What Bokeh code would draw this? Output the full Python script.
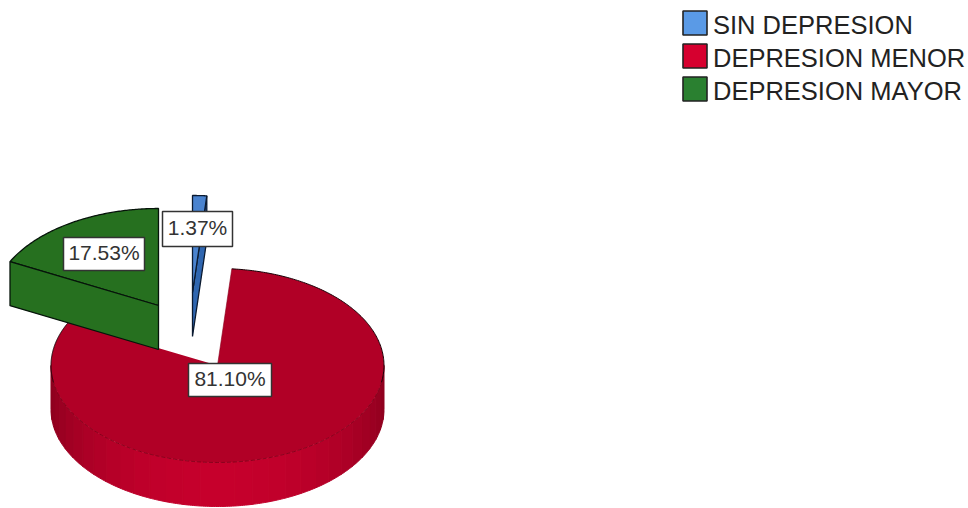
import math
from bokeh.plotting import figure
from bokeh.models import Range1d
from bokeh.core.properties import value
from bokeh.embed import file_html
from bokeh.resources import INLINE

# Data
categories = ["SIN DEPRESION", "DEPRESION MENOR", "DEPRESION MAYOR"]
percentages = [1.37, 81.10, 17.53]
pct_labels = ["1.37%", "81.10%", "17.53%"]

# Style and layout
top_colors = ["#4a83cf", "#b10026", "#26701f"]
wall_colors = ["#2f66b0", "#b10026", "#26701f"]
legend_colors = ["#5a9ae6", "#d6002f", "#2a8030"]
apex = [(192.0, 292.0), (217.0, 365.0), (158.0, 305.0)]
box_centers = [(197, 228.5), (229.5, 379.5), (103.5, 253.5)]
box_sizes = [(70, 35), (83, 33), (81, 33)]
RX, RY, DEPTH = 166.5, 97.0, 44.0
FONT = "Liberation Sans"

W, H = 968, 508
p = figure(width=W, height=H, output_backend="svg", toolbar_location=None,
           x_range=Range1d(0, W), y_range=Range1d(H, 0),
           min_border=0, outline_line_color=None, margin=(0, 0, 0, 0))
p.xaxis.visible = False
p.yaxis.visible = False
p.grid.visible = False
p.background_fill_color = "white"


def pt(c, clock_deg, dz=0.0):
    a = math.radians(clock_deg)
    return c[0] + RX * math.sin(a), c[1] - RY * math.cos(a) + dz


def arc(c, a0, a1, dz=0.0, n=120):
    pts = [pt(c, a0 + (a1 - a0) * i / n, dz) for i in range(n + 1)]
    return [q[0] for q in pts], [q[1] for q in pts]


def shade(clock_deg):
    # cylinder wall lighting: dark at the sides, bright at the front
    t = max(0.0, math.cos(math.radians(clock_deg - 180)))
    t = t ** 1.3
    lo, hi = (0x8c, 0x00, 0x1e), (0xc6, 0x00, 0x2c)
    return "#%02x%02x%02x" % tuple(round(l + (h - l) * t) for l, h in zip(lo, hi))


# clock angles from the percentages
angles = []
acc = 0.0
for v in percentages:
    start = acc * 3.6
    acc += v
    angles.append((start, acc * 3.6))

# Red slice: striped front wall, then top face
c = apex[1]
a0, a1 = angles[1]
n_wall = 30
wall_start, wall_end = max(a0, 90.0), min(a1, 270.0)
for i in range(n_wall):
    s = wall_start + (wall_end - wall_start) * i / n_wall
    e = wall_start + (wall_end - wall_start) * (i + 1) / n_wall
    xt, yt = arc(c, s, e, 0, 8)
    xb, yb = arc(c, e, s, DEPTH, 8)
    col = shade((s + e) / 2)
    p.patch(xt + xb, yt + yb, fill_color=col, line_color=col, line_width=1)
xa, ya = arc(c, a0, a1)
p.patch([c[0]] + xa, [c[1]] + ya, fill_color=top_colors[1], line_color=None)
xu, yu = arc(c, a0, 100)
p.line(xu, yu, line_color="#1a0006", line_width=1)
xu, yu = arc(c, 260, a1)
p.line(xu, yu, line_color="#1a0006", line_width=1)
xu, yu = arc(c, 100, 260)
p.line(xu, yu, line_color="#6a0014", line_width=0.6, line_dash="4 2")
p.line([c[0], pt(c, a0)[0]], [c[1], pt(c, a0)[1]], line_color="#8a001c", line_width=0.6)

# Blue slice: cut face at its clockwise end, then top face
c = apex[0]
a0, a1 = angles[0]
e = pt(c, a1)
p.patch([c[0], e[0], e[0], c[0]], [c[1], e[1], e[1] + DEPTH, c[1] + DEPTH],
        fill_color=wall_colors[0], line_color="#0b1a30", line_width=1.3)
xa, ya = arc(c, a0, a1, 0, 12)
p.patch([c[0]] + xa, [c[1]] + ya, fill_color=top_colors[0], line_color="#0b1a30", line_width=1.3)

# Green slice: top face, then cut face at its counter-clockwise end
c = apex[2]
a0, a1 = angles[2]
xa, ya = arc(c, a0, a1)
p.patch([c[0]] + xa, [c[1]] + ya, fill_color=top_colors[2], line_color="#06140a", line_width=1.3)
s = pt(c, a0)
p.patch([c[0], s[0], s[0], c[0]], [c[1], s[1], s[1] + DEPTH, c[1] + DEPTH],
        fill_color=wall_colors[2], line_color="#06140a", line_width=1.3)

# Percent labels
lx = [b[0] for b in box_centers]
ly = [b[1] for b in box_centers]
p.rect(lx, ly, width=[b[0] for b in box_sizes], height=[b[1] for b in box_sizes],
       fill_color="white", line_color="#333333", line_width=1.5)
p.text(lx, [y - 1.5 for y in ly], text=pct_labels, text_align="center", text_baseline="middle",
       text_font=value(FONT), text_font_size="21px", text_color="#333333")

# Legend
LEG_X0, LEG_X1, LEG_TEXT_X = 682.5, 706.5, 712.5
LEG_Y = [22.5, 55.5, 88.5]
LEG_H = 24
p.quad(left=[LEG_X0] * 3, right=[LEG_X1] * 3,
       top=[y - LEG_H / 2 for y in LEG_Y], bottom=[y + LEG_H / 2 for y in LEG_Y],
       fill_color=legend_colors, line_color="#222222", line_width=1.6)
p.text([LEG_TEXT_X] * 3, [y + 2 for y in LEG_Y], text=categories, text_align="left",
       text_baseline="middle", text_font=value(FONT), text_font_size="25.5px", text_color="#222222")

open("out.html", "w").write(file_html(p, INLINE))
